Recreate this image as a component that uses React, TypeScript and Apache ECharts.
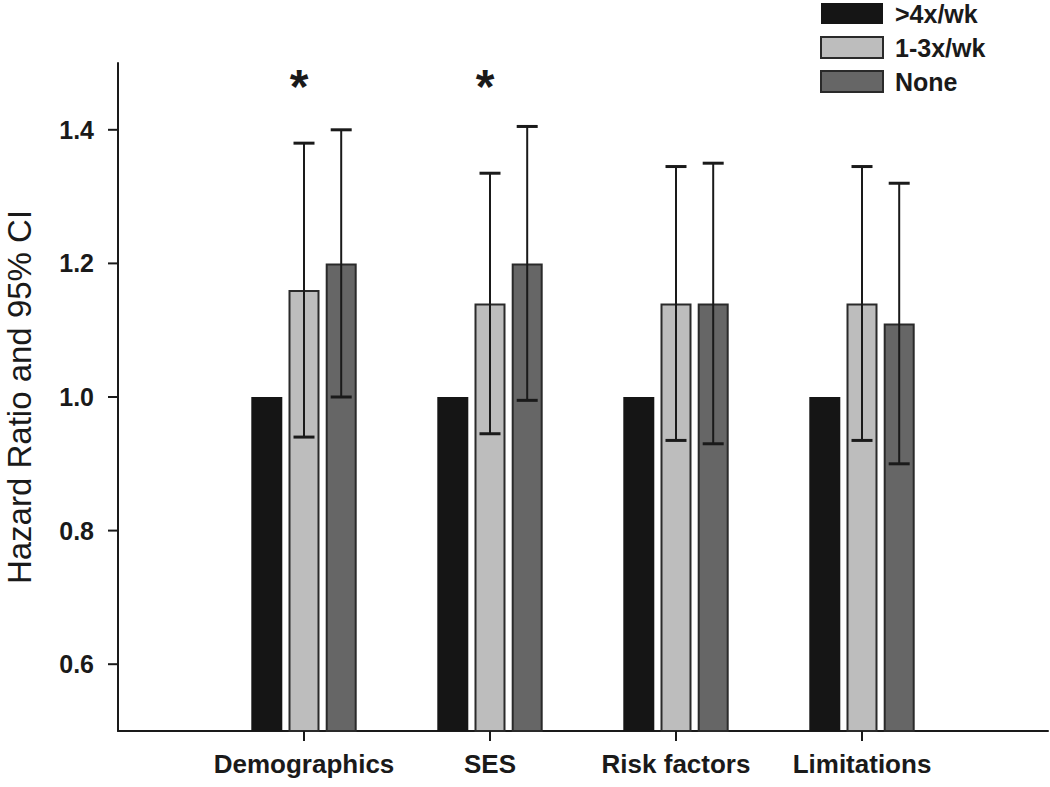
import React, { useEffect, useRef } from "react";
import * as echarts from "echarts";

// ---- data ----
const categories = ["", "Demographics", "SES", "Risk factors", "Limitations", ""];
const seriesNames = [">4x/wk", "1-3x/wk", "None"];
const hrFrequent = [null, 1.0, 1.0, 1.0, 1.0, null];
const hrModerate = [null, 1.16, 1.14, 1.14, 1.14, null];
const hrNone = [null, 1.2, 1.2, 1.14, 1.11, null];
const ciLowModerate = [null, 0.94, 0.945, 0.935, 0.935, null];
const ciHighModerate = [null, 1.38, 1.335, 1.345, 1.345, null];
const ciLowNone = [null, 1.0, 0.995, 0.93, 0.9, null];
const ciHighNone = [null, 1.4, 1.405, 1.35, 1.32, null];
const significance = ["", "*", "*", "", "", ""];
const starLevel = 1.465;
const yTicks = [0.6, 0.8, 1.0, 1.2, 1.4];
const yMin = 0.5;
const yMax = 1.5;

// ---- style constants ----
const FONT = '"Liberation Sans", Arial, Helvetica, sans-serif';
const INK = "#1a1a1a";
const BAR_WIDTH = 31;
const BAR_GAP = 0.2;
const STEP = BAR_WIDTH * (1 + BAR_GAP);
const CAP = 21;
const TICK_LEN = 10;

function errorSeries(lows: (number | null)[], highs: (number | null)[], offsetIndex: number) {
  const data = categories
    .map((_, i) => (lows[i] == null ? null : [i, lows[i], highs[i]]))
    .filter((d) => d !== null);
  return {
    type: "custom",
    silent: true,
    z: 5,
    encode: { x: 0, y: [1, 2] },
    data,
    renderItem: (params: any, api: any) => {
      const idx = api.value(0);
      const x = api.coord([idx, 1])[0] + offsetIndex * STEP;
      const yl = api.coord([idx, api.value(1)])[1];
      const yh = api.coord([idx, api.value(2)])[1];
      return {
        type: "group",
        children: [
          { type: "line", shape: { x1: x, y1: yl, x2: x, y2: yh }, style: { stroke: INK, lineWidth: 2 } },
          { type: "line", shape: { x1: x - CAP / 2, y1: yh, x2: x + CAP / 2, y2: yh }, style: { stroke: INK, lineWidth: 3 } },
          { type: "line", shape: { x1: x - CAP / 2, y1: yl, x2: x + CAP / 2, y2: yl }, style: { stroke: INK, lineWidth: 3 } },
        ],
      };
    },
  };
}

export default function App() {
  const ref = useRef<HTMLDivElement>(null);

  useEffect(() => {
    if (!ref.current) return;
    const chart = echarts.init(ref.current, null, { renderer: "svg" });
    const starData = significance
      .map((s, i) => (s ? [i, starLevel] : null))
      .filter((d) => d !== null);

    chart.setOption({
      animation: false,
      backgroundColor: "#ffffff",
      textStyle: { fontFamily: FONT },
      grid: { left: 118, right: 2, top: 63, bottom: 56, containLabel: false, outerBoundsMode: "none" },
      legend: {
        data: seriesNames,
        orient: "vertical",
        left: 820,
        top: 1,
        padding: 0,
        icon: "rect",
        itemWidth: 62,
        itemHeight: 21,
        itemGap: 9,
        selectedMode: false,
        textStyle: { fontSize: 25, fontWeight: "bold", color: INK, fontFamily: FONT, lineHeight: 21, padding: [0, 0, 0, 7] },
      },
      xAxis: {
        type: "category",
        data: categories,
        boundaryGap: false,
        axisLine: { lineStyle: { color: INK, width: 2 } },
        axisTick: { show: false },
        axisLabel: { interval: 0, fontSize: 26, fontWeight: "bold", color: INK, margin: 20, fontFamily: FONT },
        splitLine: { show: false },
      },
      yAxis: {
        type: "value",
        min: yMin,
        max: yMax,
        name: "Hazard Ratio and 95% CI",
        nameLocation: "middle",
        nameGap: 82,
        nameTextStyle: { fontSize: 33, lineHeight: 33, color: INK, fontFamily: FONT, fontWeight: "normal" },
        axisLine: { show: true, lineStyle: { color: INK, width: 2 } },
        axisTick: { show: false },
        axisLabel: {
          fontSize: 25,
          fontWeight: "bold",
          color: INK,
          margin: 24,
          fontFamily: FONT,
          customValues: yTicks,
          formatter: (v: number) => v.toFixed(1),
        },
        splitLine: { show: false },
      },
      series: [
        {
          name: seriesNames[0],
          type: "bar",
          data: hrFrequent,
          barWidth: BAR_WIDTH,
          barGap: `${BAR_GAP * 100}%`,
          itemStyle: { color: "#151515", borderColor: "#151515", borderWidth: 0 },
        },
        {
          name: seriesNames[1],
          type: "bar",
          data: hrModerate,
          barWidth: BAR_WIDTH,
          barGap: `${BAR_GAP * 100}%`,
          itemStyle: { color: "#bdbdbd", borderColor: "#2a2a2a", borderWidth: 2 },
        },
        {
          name: seriesNames[2],
          type: "bar",
          data: hrNone,
          barWidth: BAR_WIDTH,
          barGap: `${BAR_GAP * 100}%`,
          itemStyle: { color: "#666666", borderColor: "#2a2a2a", borderWidth: 2 },
        },
        errorSeries(ciLowModerate, ciHighModerate, 0),
        errorSeries(ciLowNone, ciHighNone, 1),
        {
          type: "custom",
          silent: true,
          z: 6,
          encode: { x: 0, y: 1 },
          data: starData,
          renderItem: (params: any, api: any) => {
            const idx = api.value(0);
            const p = api.coord([idx, api.value(1)]);
            return {
              type: "text",
              x: p[0] - 5,
              y: p[1],
              style: {
                text: significance[idx],
                fontSize: 48,
                fontWeight: "bold",
                fontFamily: FONT,
                fill: INK,
                align: "center",
                verticalAlign: "middle",
              },
            };
          },
        },
      ],
    });

    // Axis ticks: positions come from the chart's own scales.
    const tickEls: any[] = [];
    categories.forEach((c, i) => {
      if (!c) return;
      const p = chart.convertToPixel({ gridIndex: 0 }, [i, yMin]) as number[];
      tickEls.push({
        type: "line",
        z: 10,
        silent: true,
        shape: { x1: p[0], y1: p[1], x2: p[0], y2: p[1] + TICK_LEN },
        style: { stroke: INK, lineWidth: 2 },
      });
    });
    yTicks.forEach((v) => {
      const p = chart.convertToPixel({ gridIndex: 0 }, [0, v]) as number[];
      tickEls.push({
        type: "line",
        z: 10,
        silent: true,
        shape: { x1: p[0] - TICK_LEN, y1: p[1], x2: p[0], y2: p[1] },
        style: { stroke: INK, lineWidth: 2 },
      });
    });
    chart.setOption({ graphic: tickEls });

    return () => chart.dispose();
  }, []);

  return (
    <div
      ref={ref}
      style={{ position: "fixed", left: 0, top: 0, width: 1050, height: 787, background: "#fff" }}
    />
  );
}
